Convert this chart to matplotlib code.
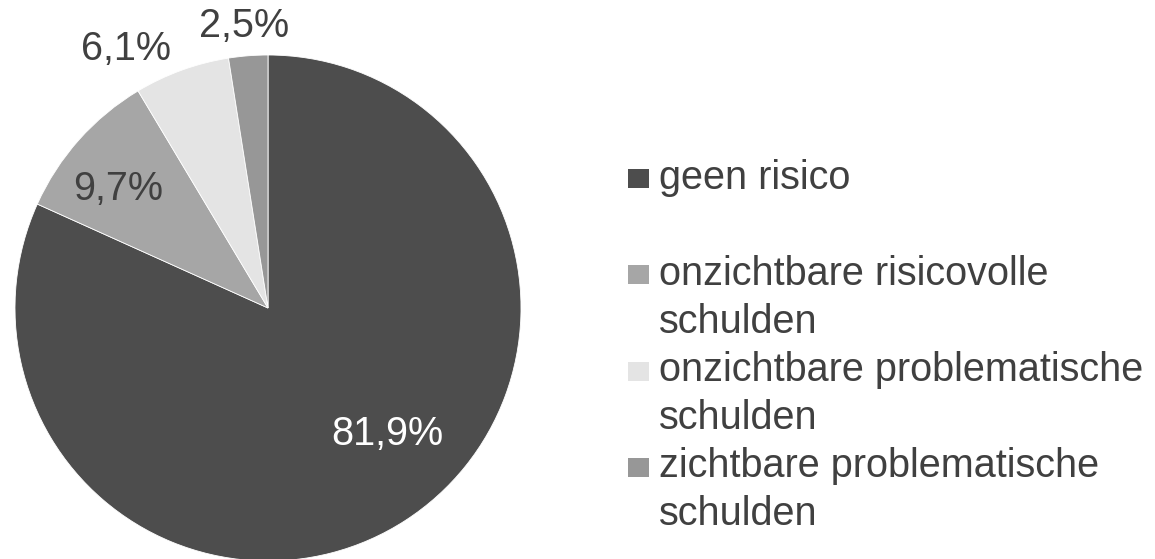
import numpy as np
import matplotlib
matplotlib.use("Agg")
import matplotlib.pyplot as plt
from matplotlib.patches import Rectangle

plt.rcParams['font.family'] = ['Liberation Sans', 'DejaVu Sans']

categories = ["geen risico",
              "onzichtbare risicovolle\nschulden",
              "onzichtbare problematische\nschulden",
              "zichtbare problematische\nschulden"]
values = [81.9, 9.7, 6.1, 2.5]
value_labels = ["81,9%", "9,7%", "6,1%", "2,5%"]
colors = ["#4d4d4d", "#a6a6a6", "#e4e4e4", "#979797"]
label_colors = ["white", "#404040", "#404040", "#404040"]
label_dist = [0.717, 0.731, 1.129, 1.075]
label_angle_shift = [8.1, 5.9, 9.9, 0.6]

W, H = 1155, 559
fig = plt.figure(figsize=(W / 100, H / 100), dpi=100)
cx, cy, R = 268, 308, 253
ax = fig.add_axes([(cx - R) / W, (H - cy - R) / H, 2 * R / W, 2 * R / H])
wedges, _ = ax.pie(values, colors=colors, startangle=90, counterclock=False,
                   radius=1.0, wedgeprops=dict(edgecolor="white", linewidth=0.6))
ax.set_xlim(-1, 1)
ax.set_ylim(-1, 1)
ax.set_aspect('equal')
ax.axis('off')

FS = 28.5
for w, lab, col, d, sh in zip(wedges, value_labels, label_colors, label_dist, label_angle_shift):
    mid = np.deg2rad((w.theta1 + w.theta2) / 2 + sh)
    ax.text(d * np.cos(mid), d * np.sin(mid), lab, ha='center', va='baseline',
            fontsize=FS, color=col, clip_on=False)

# legend
lx_box, lx_text = 628, 659
entry_step, line_h = 96, 48
y0 = 179
for i, (cat, col) in enumerate(zip(categories, colors)):
    yc = y0 + entry_step * i
    fig.patches.append(Rectangle((lx_box / W, 1 - (yc + 9.5) / H), 21 / W, 19 / H,
                                 transform=fig.transFigure, facecolor=col, edgecolor='none'))
    for j, line in enumerate(cat.split("\n")):
        fig.text(lx_text / W, 1 - (yc + 10 + j * line_h) / H, line, ha='left', va='baseline',
                 fontsize=FS, color='#404040')

fig.savefig("out.png", dpi=100, facecolor='white')
